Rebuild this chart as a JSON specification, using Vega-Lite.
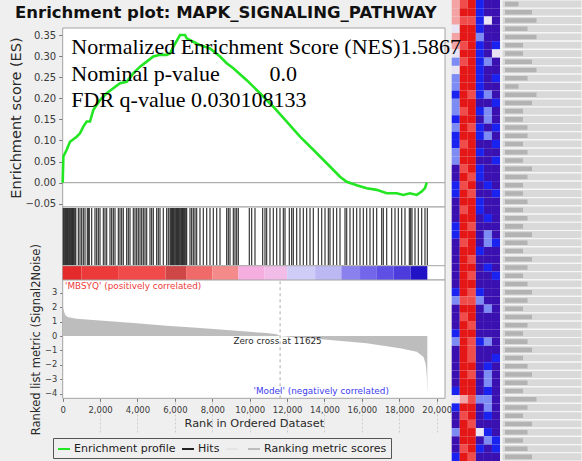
{
  "$schema": "https://vega.github.io/schema/vega-lite/v6.json",
  "width": 582,
  "height": 461,
  "autosize": {"type": "none"},
  "padding": 0,
  "background": "#efefef",
  "title": {"text": "Enrichment plot: MAPK_SIGNALING_PATHWAY", "anchor": "start", "frame": "group", "orient": "top", "offset": -35.5, "dx": 15, "baseline": "alphabetic", "font": "DejaVu Sans", "fontSize": 16.5, "fontWeight": "bold", "color": "#111111"},
  "config": {
    "view": {"stroke": null},
    "axis": {"labelFont": "DejaVu Sans", "titleFont": "DejaVu Sans", "labelColor": "#3a3a3a", "titleColor": "#2a2a2a", "titleFontWeight": "normal", "gridColor": "#cccccc", "gridDash": [2, 2], "gridWidth": 1, "tickColor": "#777777", "labelFlush": false, "zindex": 1}
  },
  "datasets": {
    "es": [
      {"rank": 0, "es": 0}, {"rank": 35, "es": 0.062}, {"rank": 214, "es": 0.078}, {"rank": 390, "es": 0.097}, {"rank": 749, "es": 0.109}, {"rank": 925, "es": 0.117}, {"rank": 1102, "es": 0.133}, {"rank": 1283, "es": 0.145}, {"rank": 1460, "es": 0.145}, {"rank": 1636, "es": 0.172}, {"rank": 1995, "es": 0.196}, {"rank": 2353, "es": 0.212}, {"rank": 2706, "es": 0.224}, {"rank": 3064, "es": 0.236}, {"rank": 3422, "es": 0.239}, {"rank": 3775, "es": 0.259}, {"rank": 4134, "es": 0.275}, {"rank": 4492, "es": 0.287}, {"rank": 4845, "es": 0.299}, {"rank": 5203, "es": 0.303}, {"rank": 5561, "es": 0.303}, {"rank": 5738, "es": 0.306}, {"rank": 5914, "es": 0.322}, {"rank": 6273, "es": 0.35}, {"rank": 6540, "es": 0.35}, {"rank": 6631, "es": 0.342}, {"rank": 6984, "es": 0.334}, {"rank": 7342, "es": 0.326}, {"rank": 7877, "es": 0.318}, {"rank": 8412, "es": 0.299}, {"rank": 8770, "es": 0.283}, {"rank": 9123, "es": 0.271}, {"rank": 9840, "es": 0.243}, {"rank": 10551, "es": 0.212}, {"rank": 11262, "es": 0.18}, {"rank": 11979, "es": 0.145}, {"rank": 12690, "es": 0.109}, {"rank": 13401, "es": 0.078}, {"rank": 14118, "es": 0.046}, {"rank": 14829, "es": 0.014}, {"rank": 15187, "es": 0.002}, {"rank": 15722, "es": -0.006}, {"rank": 16257, "es": -0.013}, {"rank": 16791, "es": -0.017}, {"rank": 17326, "es": -0.025}, {"rank": 17861, "es": -0.025}, {"rank": 18215, "es": -0.029}, {"rank": 18572, "es": -0.025}, {"rank": 18930, "es": -0.029}, {"rank": 19198, "es": -0.021}, {"rank": 19374, "es": -0.013}, {"rank": 19465, "es": 0}
    ],
    "hits": [
      {"rank": 34}, {"rank": 80}, {"rank": 123}, {"rank": 160}, {"rank": 212}, {"rank": 250}, {"rank": 301}, {"rank": 350}, {"rank": 390}, {"rank": 430}, {"rank": 480}, {"rank": 520}, {"rank": 569}, {"rank": 610}, {"rank": 658}, {"rank": 700}, {"rank": 836}, {"rank": 925}, {"rank": 1014}, {"rank": 1104}, {"rank": 1193}, {"rank": 1317}, {"rank": 1371}, {"rank": 1424}, {"rank": 1549}, {"rank": 1727}, {"rank": 1816}, {"rank": 1906}, {"rank": 1995}, {"rank": 2173}, {"rank": 2262}, {"rank": 2351}, {"rank": 2529}, {"rank": 2618}, {"rank": 2708}, {"rank": 2797}, {"rank": 2975}, {"rank": 3064}, {"rank": 3153}, {"rank": 3242}, {"rank": 3421}, {"rank": 3510}, {"rank": 3599}, {"rank": 3777}, {"rank": 3866}, {"rank": 3955}, {"rank": 4044}, {"rank": 4134}, {"rank": 4223}, {"rank": 4312}, {"rank": 4401}, {"rank": 4490}, {"rank": 4668}, {"rank": 4757}, {"rank": 4847}, {"rank": 5025}, {"rank": 5114}, {"rank": 5203}, {"rank": 5381}, {"rank": 5559}, {"rank": 5649}, {"rank": 5738}, {"rank": 5780}, {"rank": 5827}, {"rank": 5870}, {"rank": 5916}, {"rank": 5960}, {"rank": 6005}, {"rank": 6050}, {"rank": 6094}, {"rank": 6140}, {"rank": 6183}, {"rank": 6230}, {"rank": 6273}, {"rank": 6320}, {"rank": 6362}, {"rank": 6410}, {"rank": 6451}, {"rank": 6500}, {"rank": 6540}, {"rank": 6590}, {"rank": 6629}, {"rank": 6807}, {"rank": 6896}, {"rank": 6986}, {"rank": 7075}, {"rank": 7164}, {"rank": 7342}, {"rank": 7520}, {"rank": 7699}, {"rank": 7877}, {"rank": 8055}, {"rank": 8234}, {"rank": 8412}, {"rank": 8768}, {"rank": 8857}, {"rank": 8946}, {"rank": 9125}, {"rank": 9214}, {"rank": 9303}, {"rank": 9392}, {"rank": 9980}, {"rank": 10105}, {"rank": 10283}, {"rank": 10693}, {"rank": 10818}, {"rank": 10907}, {"rank": 11085}, {"rank": 11264}, {"rank": 11442}, {"rank": 11620}, {"rank": 11799}, {"rank": 11888}, {"rank": 12119}, {"rank": 12244}, {"rank": 12333}, {"rank": 12512}, {"rank": 12690}, {"rank": 12868}, {"rank": 13046}, {"rank": 13225}, {"rank": 13403}, {"rank": 13670}, {"rank": 13849}, {"rank": 14027}, {"rank": 14205}, {"rank": 14294}, {"rank": 14473}, {"rank": 14651}, {"rank": 14829}, {"rank": 15097}, {"rank": 15186}, {"rank": 15364}, {"rank": 15542}, {"rank": 15720}, {"rank": 15899}, {"rank": 16077}, {"rank": 16255}, {"rank": 16433}, {"rank": 16612}, {"rank": 16790}, {"rank": 17057}, {"rank": 17146}, {"rank": 17325}, {"rank": 17592}, {"rank": 17770}, {"rank": 17949}, {"rank": 18127}, {"rank": 18305}, {"rank": 18537}, {"rank": 18608}, {"rank": 18679}, {"rank": 18840}, {"rank": 19018}, {"rank": 19196}, {"rank": 19374}, {"rank": 19499}
    ],
    "colorbar": [
      {"start": 0, "end": 1000, "level": 1}, {"start": 1000, "end": 3000, "level": 2}, {"start": 3000, "end": 5500, "level": 3}, {"start": 5500, "end": 6600, "level": 4}, {"start": 6600, "end": 8000, "level": 5}, {"start": 8000, "end": 9400, "level": 6}, {"start": 9400, "end": 10800, "level": 7}, {"start": 10800, "end": 12000, "level": 8}, {"start": 12000, "end": 13500, "level": 9}, {"start": 13500, "end": 14900, "level": 10}, {"start": 14900, "end": 15900, "level": 11}, {"start": 15900, "end": 16800, "level": 12}, {"start": 16800, "end": 17700, "level": 13}, {"start": 17700, "end": 18600, "level": 14}, {"start": 18600, "end": 19500, "level": 15}
    ],
    "metric": [
      {"rank": 0, "metric": 2.15}, {"rank": 20, "metric": 2.0}, {"rank": 60, "metric": 1.75}, {"rank": 123, "metric": 1.5}, {"rank": 200, "metric": 1.38}, {"rank": 301, "metric": 1.3}, {"rank": 747, "metric": 1.2}, {"rank": 1995, "metric": 1.08}, {"rank": 3777, "metric": 0.9}, {"rank": 5559, "metric": 0.72}, {"rank": 7342, "metric": 0.55}, {"rank": 9125, "metric": 0.38}, {"rank": 10907, "metric": 0.2}, {"rank": 11442, "metric": 0.12}, {"rank": 11625, "metric": 0}, {"rank": 12500, "metric": -0.1}, {"rank": 13850, "metric": -0.23}, {"rank": 16255, "metric": -0.51}, {"rank": 18040, "metric": -0.86}, {"rank": 18930, "metric": -1.09}, {"rank": 19287, "metric": -1.44}, {"rank": 19400, "metric": -1.9}, {"rank": 19430, "metric": -2.13}, {"rank": 19470, "metric": -2.8}, {"rank": 19499, "metric": -3.98}
    ],
    "stats": [
      {"label": "Normalized Enrichment Score (NES)1.5867", "rank": 460, "es": 0.3043},
      {"label": "Nominal p-value", "rank": 460, "es": 0.241},
      {"label": "0.0", "rank": 11059, "es": 0.241},
      {"label": "FDR q-value 0.030108133", "rank": 460, "es": 0.18}
    ],
    "heat": [
      {"row": 0, "c1": 0.5, "c2": 1, "c3": 2, "c4": -2, "c5": -3, "c6": -3, "len": 3},
      {"row": 1, "c1": 0.5, "c2": 2, "c3": 2, "c4": -2, "c5": -3, "c6": -3, "len": 6},
      {"row": 2, "c1": 0.5, "c2": 1, "c3": 1, "c4": -2, "c5": 0, "c6": -3, "len": 7},
      {"row": 3, "c1": 0, "c2": 2, "c3": 2, "c4": -2, "c5": -3, "c6": -3, "len": 5},
      {"row": 4, "c1": 0.5, "c2": 2, "c3": 2, "c4": -1, "c5": -3, "c6": -3, "len": 7},
      {"row": 5, "c1": 0.5, "c2": 1, "c3": 2, "c4": -2, "c5": -3, "c6": -2, "len": 4},
      {"row": 6, "c1": 0, "c2": 2, "c3": 2, "c4": -2, "c5": -3, "c6": 0, "len": 4},
      {"row": 7, "c1": -1, "c2": 1, "c3": 2, "c4": -2, "c5": -1, "c6": -3, "len": 6},
      {"row": 8, "c1": 0, "c2": 2, "c3": 2, "c4": -2, "c5": -3, "c6": -3, "len": 7},
      {"row": 9, "c1": -1, "c2": 2, "c3": 2, "c4": -2, "c5": -3, "c6": -2, "len": 5},
      {"row": 10, "c1": -1, "c2": 2, "c3": 2, "c4": -2, "c5": -3, "c6": -3, "len": 3},
      {"row": 11, "c1": -2, "c2": 2, "c3": 1, "c4": -2, "c5": -1, "c6": -3, "len": 7},
      {"row": 12, "c1": -1, "c2": 2, "c3": 2, "c4": -3, "c5": -3, "c6": -2, "len": 6},
      {"row": 13, "c1": -1, "c2": 1, "c3": 2, "c4": -2, "c5": -1, "c6": -3, "len": 4},
      {"row": 14, "c1": -2, "c2": 2, "c3": 2, "c4": -3, "c5": -1, "c6": -3, "len": 4},
      {"row": 15, "c1": -1, "c2": 2, "c3": 1, "c4": -2, "c5": -3, "c6": -2, "len": 5},
      {"row": 16, "c1": -2, "c2": 2, "c3": 2, "c4": -2, "c5": -1, "c6": -3, "len": 5},
      {"row": 17, "c1": -2, "c2": 1, "c3": 2, "c4": -3, "c5": -3, "c6": -2, "len": 4},
      {"row": 18, "c1": -1, "c2": 2, "c3": 2, "c4": -2, "c5": -3, "c6": -3, "len": 5},
      {"row": 19, "c1": -1, "c2": 2, "c3": 2, "c4": -3, "c5": -3, "c6": -2, "len": 4},
      {"row": 20, "c1": -3, "c2": 1, "c3": 2, "c4": -2, "c5": -3, "c6": -3, "len": 6},
      {"row": 21, "c1": -3, "c2": 2, "c3": 1, "c4": -2, "c5": -3, "c6": -3, "len": 5},
      {"row": 22, "c1": -2, "c2": 1, "c3": 2, "c4": -3, "c5": -2, "c6": -3, "len": 4},
      {"row": 23, "c1": -2, "c2": 2, "c3": 1, "c4": -3, "c5": -3, "c6": -2, "len": 4},
      {"row": 24, "c1": -3, "c2": 2, "c3": 2, "c4": -2, "c5": -3, "c6": -3, "len": 5},
      {"row": 25, "c1": -3, "c2": 1, "c3": 2, "c4": -2, "c5": -3, "c6": -3, "len": 4},
      {"row": 26, "c1": -3, "c2": 2, "c3": 2, "c4": -3, "c5": -2, "c6": -3, "len": 5},
      {"row": 27, "c1": -2, "c2": 2, "c3": 1, "c4": -3, "c5": -3, "c6": -3, "len": 4},
      {"row": 28, "c1": -2, "c2": 2, "c3": 2, "c4": -3, "c5": -1, "c6": -3, "len": 6},
      {"row": 29, "c1": -3, "c2": 1, "c3": 2, "c4": -3, "c5": -1, "c6": -2, "len": 5},
      {"row": 30, "c1": -3, "c2": 2, "c3": 2, "c4": -2, "c5": -3, "c6": -3, "len": 4},
      {"row": 31, "c1": -3, "c2": 2, "c3": 1, "c4": -3, "c5": -3, "c6": -3, "len": 6},
      {"row": 32, "c1": -3, "c2": 2, "c3": 2, "c4": -3, "c5": -2, "c6": -3, "len": 5},
      {"row": 33, "c1": -3, "c2": 2, "c3": 1, "c4": -3, "c5": -3, "c6": -2, "len": 4},
      {"row": 34, "c1": -3, "c2": 2, "c3": 2, "c4": -3, "c5": -3, "c6": -3, "len": 5},
      {"row": 35, "c1": -2, "c2": 2, "c3": 1, "c4": -2, "c5": -3, "c6": -3, "len": 6},
      {"row": 36, "c1": -1, "c2": 1, "c3": 1, "c4": -1, "c5": -3, "c6": -3, "len": 5},
      {"row": 37, "c1": -3, "c2": 2, "c3": 2, "c4": -3, "c5": -1, "c6": -3, "len": 4},
      {"row": 38, "c1": -3, "c2": 1, "c3": 2, "c4": -3, "c5": -3, "c6": -3, "len": 6},
      {"row": 39, "c1": -3, "c2": 2, "c3": 1, "c4": -3, "c5": -3, "c6": -3, "len": 5},
      {"row": 40, "c1": -2, "c2": 2, "c3": 2, "c4": -3, "c5": -3, "c6": -3, "len": 4},
      {"row": 41, "c1": -1, "c2": 2, "c3": 1, "c4": -2, "c5": -1, "c6": -3, "len": 5},
      {"row": 42, "c1": -3, "c2": 2, "c3": 1, "c4": -3, "c5": -3, "c6": -3, "len": 6},
      {"row": 43, "c1": -3, "c2": 2, "c3": 1, "c4": -3, "c5": -3, "c6": -2, "len": 4},
      {"row": 44, "c1": -3, "c2": 2, "c3": 2, "c4": -3, "c5": -2, "c6": -3, "len": 5},
      {"row": 45, "c1": -3, "c2": 2, "c3": 1, "c4": -3, "c5": -1, "c6": -3, "len": 6},
      {"row": 46, "c1": -3, "c2": 2, "c3": 2, "c4": -3, "c5": -1, "c6": -3, "len": 5},
      {"row": 47, "c1": -2, "c2": 2, "c3": 2, "c4": -3, "c5": -2, "c6": -3, "len": 4},
      {"row": 48, "c1": 0, "c2": 0.5, "c3": 1, "c4": -1, "c5": -1, "c6": -3, "len": 7},
      {"row": 49, "c1": -2, "c2": 2, "c3": 2, "c4": -3, "c5": -1, "c6": -3, "len": 5},
      {"row": 50, "c1": -3, "c2": 1, "c3": 2, "c4": -3, "c5": -2, "c6": -3, "len": 4},
      {"row": 51, "c1": -3, "c2": 2, "c3": 1, "c4": -3, "c5": -3, "c6": -3, "len": 6},
      {"row": 52, "c1": -1, "c2": 2, "c3": 2, "c4": 0, "c5": -2, "c6": -3, "len": 5},
      {"row": 53, "c1": -3, "c2": 2, "c3": 2, "c4": -3, "c5": -1, "c6": -2, "len": 4},
      {"row": 54, "c1": -3, "c2": 1, "c3": 2, "c4": -2, "c5": -3, "c6": -2, "len": 5},
      {"row": 55, "c1": -2, "c2": 2, "c3": 1, "c4": -3, "c5": -3, "c6": -3, "len": 6}
    ]
  },
  "resolve": {"scale": {"x": "independent", "y": "independent", "fill": "independent"}},
  "layer": [
    {
      "layer": [
        {
          "data": {"values": [{}]},
          "mark": {"type": "rect", "fill": "#ffffff", "stroke": "#a3a3a3", "strokeWidth": 1},
          "encoding": {
            "x": {"datum": 0, "type": "quantitative", "scale": {"domain": [0, 20444], "range": [62.7, 445], "nice": false, "zero": false}, "axis": {"orient": "bottom", "grid": true, "labels": false, "ticks": false, "domain": false, "title": null, "values": [2000, 4000, 6000, 8000, 10000, 12000, 14000, 16000, 18000, 20000]}},
            "x2": {"datum": 20444},
            "y": {"datum": -0.0576, "type": "quantitative", "scale": {"domain": [-0.0576, 0.3666], "range": [207, 28], "nice": false, "zero": false}, "axis": {"orient": "left", "offset": -62.7, "values": [-0.05, 0, 0.05, 0.1, 0.15, 0.2, 0.25, 0.3, 0.35], "format": ".2f", "grid": true, "domain": false, "tickSize": 4, "labelPadding": 3, "labelFontSize": 10, "title": "Enrichment score (ES)", "titleFontSize": 14.5, "titleX": -46, "titleBaseline": "middle"}},
            "y2": {"datum": 0.3666}
          }
        },
        {
          "data": {"values": [{}]},
          "mark": {"type": "rule", "color": "#9a9a9a", "strokeWidth": 1},
          "encoding": {"x": {"datum": 0, "type": "quantitative"}, "x2": {"datum": 20444}, "y": {"datum": 0, "type": "quantitative"}}
        },
        {
          "data": {"name": "es"},
          "mark": {"type": "line", "strokeWidth": 2.6},
          "encoding": {
            "x": {"field": "rank", "type": "quantitative"},
            "y": {"field": "es", "type": "quantitative"},
            "color": {"datum": "Enrichment profile", "scale": {"domain": ["Enrichment profile", "Hits", " ", "Ranking metric scores"], "range": ["#22e622", "#222222", "#e4e4e4", "#bdbdbd"]}, "legend": {"orient": "none", "legendX": 53, "legendY": 438, "direction": "horizontal", "title": null, "symbolType": "stroke", "symbolStrokeWidth": 2, "symbolSize": 144, "labelFont": "DejaVu Sans", "labelFontSize": 11, "labelColor": "#222222", "padding": 4, "strokeColor": "#555555", "columnPadding": 2, "labelOffset": 3, "encode": {"symbols": {"update": {"stroke": {"scale": "color", "field": "value"}, "strokeWidth": {"value": 2}}}}}}
          }
        }
      ]
    },
    {
      "layer": [
        {
          "data": {"values": [{}]},
          "mark": {"type": "rect", "fill": "#ffffff", "stroke": "#a3a3a3", "strokeWidth": 1},
          "encoding": {
            "x": {"datum": 0, "type": "quantitative", "scale": {"domain": [0, 20444], "range": [62.7, 445], "nice": false, "zero": false}, "axis": null},
            "x2": {"datum": 20444},
            "y": {"datum": 0, "type": "quantitative", "scale": {"domain": [0, 1], "range": [280, 207], "nice": false, "zero": false}, "axis": null},
            "y2": {"datum": 1}
          }
        },
        {
          "data": {"name": "colorbar"},
          "mark": {"type": "rect"},
          "encoding": {
            "x": {"field": "start", "type": "quantitative"},
            "x2": {"field": "end"},
            "y": {"datum": 0, "type": "quantitative"},
            "y2": {"datum": 0.192},
            "fill": {"field": "level", "type": "ordinal", "scale": {"domain": [1, 2, 3, 4, 5, 6, 7, 8, 9, 10, 11, 12, 13, 14, 15], "range": ["#e42a2a", "#ec3a3a", "#f04a4a", "#cf4646", "#f06a6a", "#f48a8a", "#f6aee0", "#f2bce8", "#cfcdf7", "#bcb8f4", "#8a80ee", "#7466ea", "#5e50e4", "#4c3cdc", "#2212c6"]}, "legend": null}
          }
        },
        {
          "data": {"values": [{}]},
          "mark": {"type": "rule", "color": "#a3a3a3", "strokeWidth": 1},
          "encoding": {"x": {"datum": 0, "type": "quantitative"}, "x2": {"datum": 20444}, "y": {"datum": 0.196, "type": "quantitative"}}
        },
        {
          "data": {"name": "hits"},
          "mark": {"type": "rule", "strokeWidth": 1.2, "opacity": 0.9},
          "encoding": {
            "x": {"field": "rank", "type": "quantitative"},
            "y": {"datum": 0.205, "type": "quantitative"},
            "y2": {"datum": 0.986},
            "color": {"datum": "Hits"}
          }
        }
      ]
    },
    {
      "layer": [
        {
          "data": {"values": [{}]},
          "mark": {"type": "rect", "fill": "#ffffff", "stroke": "#a3a3a3", "strokeWidth": 1},
          "encoding": {
            "x": {"datum": 0, "type": "quantitative", "scale": {"domain": [0, 20444], "range": [62.7, 445], "nice": false, "zero": false}, "axis": {"orient": "bottom", "offset": -62.7, "values": [0, 2000, 4000, 6000, 8000, 10000, 12000, 14000, 16000, 18000, 20000], "format": ",d", "grid": true, "domain": false, "tickSize": 3, "labelPadding": 4, "labelFontSize": 8.5, "labelOverlap": false, "title": "Rank in Ordered Dataset", "titleFontSize": 11.3, "titleY": 24.7, "titleBaseline": "middle"}},
            "x2": {"datum": 20444},
            "y": {"datum": -4.332, "type": "quantitative", "scale": {"domain": [-4.332, 3.894], "range": [398.3, 280], "nice": false, "zero": false}, "axis": {"orient": "left", "offset": -62.7, "values": [-4, -3, -2, -1, 0, 1, 2, 3], "format": "d", "grid": true, "domain": false, "tickSize": 3, "labelPadding": 3, "labelFontSize": 8.3, "labelOverlap": false, "title": "Ranked list metric (Signal2Noise)", "titleFontSize": 11.5, "titleX": -26, "titleBaseline": "middle"}},
            "y2": {"datum": 3.894}
          }
        },
        {
          "data": {"name": "metric"},
          "mark": {"type": "area"},
          "encoding": {
            "x": {"field": "rank", "type": "quantitative"},
            "y": {"field": "metric", "type": "quantitative"},
            "y2": {"datum": 0},
            "color": {"datum": "Ranking metric scores"}
          }
        },
        {
          "data": {"values": [{"rank": 11625}]},
          "mark": {"type": "rule", "color": "#aaaaaa", "strokeDash": [3, 3], "strokeWidth": 1},
          "encoding": {"x": {"field": "rank", "type": "quantitative"}, "y": {"datum": -4.332, "type": "quantitative"}, "y2": {"datum": 3.894}}
        },
        {
          "data": {"values": [{"label": "'MBSYQ' (positively correlated)", "rank": 123, "metric": 3.48}]},
          "mark": {"type": "text", "align": "left", "baseline": "middle", "font": "DejaVu Sans", "fontSize": 8.85, "color": "#f03a3a"},
          "encoding": {"x": {"field": "rank", "type": "quantitative"}, "y": {"field": "metric", "type": "quantitative"}, "text": {"field": "label"}}
        },
        {
          "data": {"values": [{"label": "Zero cross at 11625", "rank": 11490, "metric": -0.35}]},
          "mark": {"type": "text", "align": "center", "baseline": "middle", "font": "DejaVu Sans", "fontSize": 8.8, "color": "#2a2a2a"},
          "encoding": {"x": {"field": "rank", "type": "quantitative"}, "y": {"field": "metric", "type": "quantitative"}, "text": {"field": "label"}}
        },
        {
          "data": {"values": [{"label": "'Model' (negatively correlated)", "rank": 13824, "metric": -3.82}]},
          "mark": {"type": "text", "align": "center", "baseline": "middle", "font": "DejaVu Sans", "fontSize": 8.85, "color": "#3c3cf0"},
          "encoding": {"x": {"field": "rank", "type": "quantitative"}, "y": {"field": "metric", "type": "quantitative"}, "text": {"field": "label"}}
        }
      ]
    },
    {
      "data": {"name": "heat"},
      "transform": [{"fold": ["c1", "c2", "c3", "c4", "c5", "c6"], "as": ["col", "v"]}],
      "mark": {"type": "rect"},
      "encoding": {
        "x": {"field": "col", "type": "nominal", "scale": {"domain": ["c1", "c2", "c3", "c4", "c5", "c6"], "range": [451.7, 500], "paddingInner": 0, "paddingOuter": 0}, "axis": null},
        "y": {"field": "row", "type": "ordinal", "scale": {"range": [0, 461], "paddingInner": 0, "paddingOuter": 0}, "axis": null},
        "fill": {"field": "v", "type": "ordinal", "scale": {"domain": [-3, -2, -1, 0, 0.5, 1, 2], "range": ["#3a10b0", "#1a22f0", "#7d8cf5", "#e8e4f4", "#f3a3a3", "#f04c4c", "#e41616"]}, "legend": null}
      }
    },
    {
      "data": {"name": "heat"},
      "layer": [
        {
          "mark": {"type": "rect", "fill": "#d9d9d9", "stroke": "#f7f7f7", "strokeWidth": 1.2},
          "encoding": {
            "x": {"datum": -0.7, "type": "quantitative", "scale": {"domain": [0, 17.1], "range": [505, 582], "nice": false, "zero": false}, "axis": null},
            "x2": {"datum": 17.1},
            "y": {"field": "row", "type": "ordinal", "scale": {"range": [0, 461], "paddingInner": 0, "paddingOuter": 0}, "axis": null}
          }
        },
        {
          "mark": {"type": "bar", "color": "#b3b3b3", "height": {"band": 0.55}},
          "encoding": {
            "x": {"field": "len", "type": "quantitative"},
            "y": {"field": "row", "type": "ordinal"}
          }
        }
      ]
    },
    {
      "data": {"name": "stats"},
      "mark": {"type": "text", "font": "Liberation Serif", "fontSize": 22, "align": "left", "baseline": "alphabetic", "color": "#000000"},
      "encoding": {
        "x": {"field": "rank", "type": "quantitative", "scale": {"domain": [0, 20444], "range": [62.7, 445], "nice": false, "zero": false}, "axis": null},
        "y": {"field": "es", "type": "quantitative", "scale": {"domain": [-0.0576, 0.3666], "range": [207, 28], "nice": false, "zero": false}, "axis": null},
        "text": {"field": "label"}
      }
    }
  ]
}
